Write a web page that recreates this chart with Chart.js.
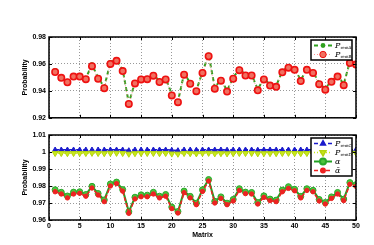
<!DOCTYPE html>
<html>
<head>
<meta charset="utf-8">
<script src="https://cdn.jsdelivr.net/npm/chart.js@4"></script>
<style>
  body { margin: 0; background: #fff; }
  #wrap { position: relative; width: 374px; height: 245px; }
  canvas { position: absolute; left: 0; }
</style>
</head>
<body>
<div id="wrap">
  <canvas id="topChart" width="374" height="125" style="top:0"></canvas>
  <canvas id="bottomChart" width="374" height="120" style="top:125px"></canvas>
</div>
<script>
// matrix index (x axis)
const matrixIdx = [1, 2, 3, 4, 5, 6, 7, 8, 9, 10, 11, 12, 13, 14, 15, 16, 17, 18, 19, 20,
  21, 22, 23, 24, 25, 26, 27, 28, 29, 30, 31, 32, 33, 34, 35, 36, 37, 38, 39, 40,
  41, 42, 43, 44, 45, 46, 47, 48, 49, 50];

// top panel
const pRemA = [0.9552, 0.9506, 0.9472, 0.9514, 0.9516, 0.9494, 0.9594, 0.9498, 0.9428, 0.9612,
  0.9633, 0.9555, 0.9310, 0.9463, 0.9494, 0.9495, 0.9522, 0.9473, 0.9493, 0.9374,
  0.9322, 0.9528, 0.9461, 0.9404, 0.9541, 0.9668, 0.9424, 0.9484, 0.9402, 0.9498,
  0.9563, 0.9522, 0.9521, 0.9411, 0.9493, 0.9446, 0.9437, 0.9546, 0.9581, 0.9564,
  0.9480, 0.9564, 0.9541, 0.9458, 0.9416, 0.9475, 0.9514, 0.9449, 0.9616, 0.9603];
const pRemB = [0.9540, 0.9497, 0.9464, 0.9506, 0.9506, 0.9487, 0.9583, 0.9490, 0.9420, 0.9600,
  0.9623, 0.9547, 0.9303, 0.9455, 0.9485, 0.9487, 0.9513, 0.9466, 0.9485, 0.9366,
  0.9316, 0.9520, 0.9453, 0.9398, 0.9533, 0.9657, 0.9416, 0.9476, 0.9395, 0.9490,
  0.9554, 0.9514, 0.9514, 0.9404, 0.9485, 0.9439, 0.9430, 0.9538, 0.9572, 0.9556,
  0.9473, 0.9556, 0.9533, 0.9450, 0.9409, 0.9467, 0.9506, 0.9442, 0.9607, 0.9595];

// bottom panel
const pRemC = [1.0013, 1.0013, 1.0013, 1.0013, 1.0013, 1.0013, 1.0013, 1.0013, 1.0013, 1.0013,
  1.0013, 1.0013, 1.0009, 1.0013, 1.0013, 1.0013, 1.0013, 1.0013, 1.0013, 1.0011,
  1.0009, 1.0013, 1.0013, 1.0012, 1.0013, 1.0013, 1.0013, 1.0013, 1.0012, 1.0013,
  1.0013, 1.0013, 1.0013, 1.0012, 1.0013, 1.0013, 1.0013, 1.0013, 1.0013, 1.0013,
  1.0013, 1.0013, 1.0013, 1.0013, 1.0012, 1.0013, 1.0013, 1.0013, 1.0013, 1.0013];
const pRemD = [0.9993, 0.9993, 0.9992, 0.9993, 0.9993, 0.9993, 0.9994, 0.9993, 0.9992, 0.9994,
  0.9994, 0.9993, 0.9989, 0.9992, 0.9993, 0.9993, 0.9993, 0.9992, 0.9993, 0.9990,
  0.9989, 0.9993, 0.9992, 0.9991, 0.9993, 0.9994, 0.9991, 0.9992, 0.9991, 0.9992,
  0.9993, 0.9993, 0.9993, 0.9991, 0.9992, 0.9992, 0.9992, 0.9993, 0.9994, 0.9993,
  0.9992, 0.9993, 0.9993, 0.9992, 0.9991, 0.9992, 0.9993, 0.9992, 0.9994, 0.9994];
const alpha = [0.9778, 0.9763, 0.9741, 0.9764, 0.9766, 0.9750, 0.9798, 0.9756, 0.9718, 0.9812,
  0.9823, 0.9779, 0.9648, 0.9734, 0.9748, 0.9746, 0.9763, 0.9740, 0.9750, 0.9676,
  0.9650, 0.9770, 0.9739, 0.9699, 0.9778, 0.9838, 0.9710, 0.9736, 0.9699, 0.9721,
  0.9784, 0.9764, 0.9762, 0.9703, 0.9742, 0.9723, 0.9717, 0.9776, 0.9796, 0.9781,
  0.9739, 0.9784, 0.9775, 0.9721, 0.9703, 0.9736, 0.9762, 0.9723, 0.9820, 0.9808];
const alphaBar = [0.9766, 0.9753, 0.9730, 0.9753, 0.9757, 0.9740, 0.9788, 0.9747, 0.9708, 0.9800,
  0.9814, 0.9770, 0.9639, 0.9724, 0.9737, 0.9737, 0.9753, 0.9730, 0.9740, 0.9667,
  0.9641, 0.9761, 0.9730, 0.9690, 0.9768, 0.9829, 0.9700, 0.9727, 0.9690, 0.9712,
  0.9774, 0.9755, 0.9753, 0.9694, 0.9733, 0.9714, 0.9708, 0.9766, 0.9786, 0.9772,
  0.9730, 0.9774, 0.9766, 0.9712, 0.9694, 0.9727, 0.9753, 0.9714, 0.9810, 0.9798];

const pts = (ys) => matrixIdx.map((x, i) => ({ x: x, y: ys[i] }));

const tickFont = { family: "Liberation Sans", size: 7, weight: "bold" };

// frame, inner ticks and a matlab-like legend
const framePlugin = {
  id: "frame",
  afterDraw(chart) {
    const { ctx, chartArea: a, scales } = chart;
    ctx.save();
    ctx.strokeStyle = "#000";
    ctx.lineWidth = 1;
    ctx.beginPath();
    scales.x.ticks.forEach((t) => {
      const px = Math.round(scales.x.getPixelForValue(t.value)) + 0.5;
      ctx.moveTo(px, a.bottom); ctx.lineTo(px, a.bottom - 3);
      ctx.moveTo(px, a.top); ctx.lineTo(px, a.top + 3);
    });
    scales.y.ticks.forEach((t) => {
      const py = Math.round(scales.y.getPixelForValue(t.value)) + 0.5;
      ctx.moveTo(a.left, py); ctx.lineTo(a.left + 3, py);
      ctx.moveTo(a.right, py); ctx.lineTo(a.right - 3, py);
    });
    ctx.stroke();
    ctx.lineWidth = 1.5;
    ctx.strokeRect(a.left, a.top, a.right - a.left, a.bottom - a.top);

    // legend
    const ds = chart.data.datasets;
    const rowH = 9;
    const bw = 41, bh = ds.length * rowH + 2;
    const bx = a.right - 4 - bw, by = a.top + 3;
    ctx.fillStyle = "#fff";
    ctx.fillRect(bx, by, bw, bh);
    ctx.lineWidth = 1.5;
    ctx.strokeRect(bx, by, bw, bh);
    ds.forEach((d, i) => {
      const cy = by + 1 + rowH * i + rowH / 2;
      ctx.save();
      ctx.strokeStyle = d.borderColor;
      ctx.lineWidth = d.borderWidth;
      ctx.setLineDash(d.borderDash || []);
      ctx.beginPath();
      ctx.moveTo(bx + 3, cy); ctx.lineTo(bx + 21, cy);
      ctx.stroke();
      ctx.setLineDash([]);
      ctx.fillStyle = d.pointBackgroundColor;
      ctx.strokeStyle = d.pointBorderColor;
      Chart.helpers.drawPoint(ctx, {
        pointStyle: d.pointStyle || "circle",
        rotation: d.pointRotation || 0,
        radius: d.pointRadius,
        borderWidth: d.pointBorderWidth
      }, bx + 12, cy);
      ctx.restore();
      const parts = d.label.split("_");
      ctx.fillStyle = "#000";
      ctx.textBaseline = "middle";
      ctx.font = "italic 8px 'DejaVu Serif'";
      ctx.fillText(parts[0], bx + 24, cy);
      if (parts[1]) {
        const w = ctx.measureText(parts[0]).width;
        ctx.font = "4px 'DejaVu Serif'";
        ctx.fillText(parts[1], bx + 24 + w, cy + 2.5);
      }
    });
    ctx.restore();
  }
};

function xScale(showLabels) {
  return {
    type: "linear",
    min: 0,
    max: 50,
    afterFit: (s) => { s.height = showLabels ? 25 : 3; },
    ticks: { stepSize: 5, display: showLabels, font: tickFont, color: "#000", maxRotation: 0, padding: 2 },
    grid: { color: "rgba(0,0,0,0.4)", drawTicks: false, lineWidth: 1 },
    border: { display: false, dash: [1, 2] },
    title: {
      display: showLabels,
      text: "Matrix",
      font: tickFont,
      color: "#000",
      padding: { top: 0, bottom: 6 }
    }
  };
}

function yScale(min, max, step) {
  return {
    min: min,
    max: max,
    afterFit: (s) => { s.width = 49; },
    ticks: {
      stepSize: step,
      font: tickFont,
      color: "#000",
      padding: 3,
      callback: (v) => String(Number(v.toFixed(2)))
    },
    grid: { color: "rgba(0,0,0,0.4)", drawTicks: false, lineWidth: 1 },
    border: { display: false, dash: [1, 2] },
    title: {
      display: true,
      text: "Probability",
      font: tickFont,
      color: "#000",
      padding: { top: 21, bottom: 0 }
    }
  };
}

const baseOptions = (padTop, xs, ys) => ({
  responsive: false,
  animation: false,
  devicePixelRatio: 1,
  layout: { padding: { top: padTop, right: 18, bottom: 0, left: 0 } },
  plugins: { legend: { display: false }, tooltip: { enabled: false } },
  scales: { x: xs, y: ys }
});

new Chart(document.getElementById("topChart"), {
  type: "line",
  data: {
    datasets: [
      {
        label: "P_remA",
        data: pts(pRemA),
        borderColor: "#2ea01e",
        borderWidth: 2,
        borderDash: [4, 3],
        pointRadius: 2.4,
        pointBackgroundColor: "#2ea01e",
        pointBorderColor: "#2ea01e",
        pointBorderWidth: 0,
        order: 1
      },
      {
        label: "P_remB",
        data: pts(pRemB),
        borderColor: "#ff9090",
        borderWidth: 1,
        borderDash: [1, 2],
        pointRadius: 3.2,
        pointBackgroundColor: "#f07060",
        pointBorderColor: "#ee1111",
        pointBorderWidth: 1.6,
        order: 0
      }
    ]
  },
  options: baseOptions(37, xScale(false), yScale(0.92, 0.98, 0.02)),
  plugins: [framePlugin]
});

new Chart(document.getElementById("bottomChart"), {
  type: "line",
  data: {
    datasets: [
      {
        label: "P_remC",
        data: pts(pRemC),
        borderColor: "#1a1acc",
        borderWidth: 1.5,
        borderDash: [4, 3],
        pointStyle: "triangle",
        pointRadius: 2.8,
        pointBackgroundColor: "#1a1acc",
        pointBorderColor: "#1a1acc",
        pointBorderWidth: 1,
        order: 3
      },
      {
        label: "P_remD",
        data: pts(pRemD),
        borderColor: "#c8e81a",
        borderWidth: 1.5,
        borderDash: [1, 2],
        pointStyle: "triangle",
        pointRotation: 180,
        pointRadius: 3.4,
        pointBackgroundColor: "#c8e81a",
        pointBorderColor: "#b4d410",
        pointBorderWidth: 1,
        order: 2
      },
      {
        label: "α",
        data: pts(alpha),
        borderColor: "#22a022",
        borderWidth: 2,
        pointRadius: 3,
        pointBackgroundColor: "#4cc43c",
        pointBorderColor: "#2aa82a",
        pointBorderWidth: 1,
        order: 1
      },
      {
        label: "ᾱ",
        data: pts(alphaBar),
        borderColor: "#ee2222",
        borderWidth: 1.5,
        borderDash: [4, 2],
        pointRadius: 2.2,
        pointBackgroundColor: "#ee2222",
        pointBorderColor: "#ee2222",
        pointBorderWidth: 1,
        order: 0
      }
    ]
  },
  options: baseOptions(10, xScale(true), yScale(0.96, 1.01, 0.01)),
  plugins: [framePlugin]
});
</script>
</body>
</html>
